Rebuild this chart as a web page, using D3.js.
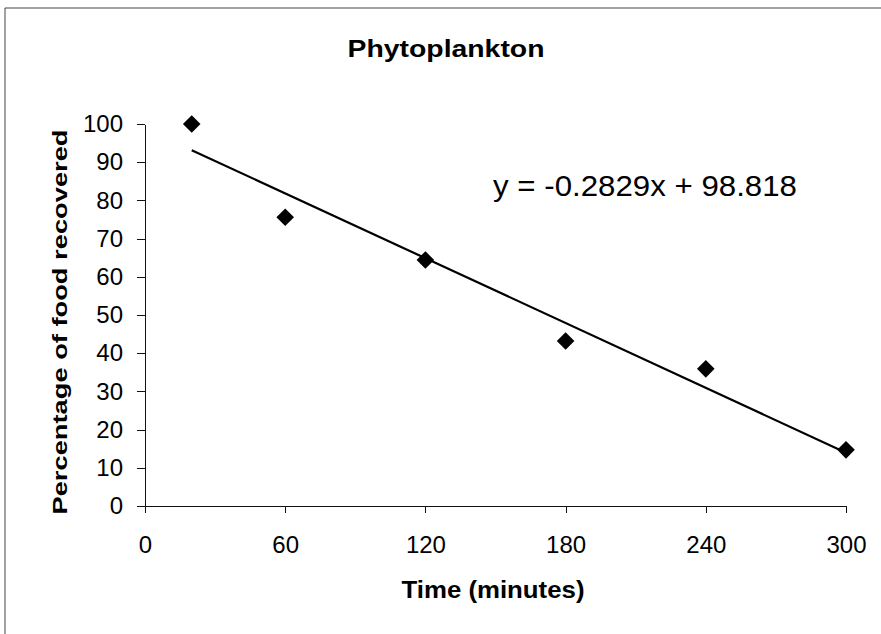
<!DOCTYPE html>
<html lang="en">
<head>
<meta charset="UTF-8">
<script src="https://d3js.org/d3.v7.min.js"></script>
<style>
  body { margin: 0; background: #fff; }
  svg { display: block; font-family: Arial, "Liberation Sans", sans-serif; }
  .axis path, .axis line { stroke: #111; stroke-width: 1px; shape-rendering: crispEdges; }
  .axis text { fill: #000; font-size: 24px; }
  .trend { fill: none; stroke: #000; stroke-width: 2.2px; }
</style>
</head>
<body>
<script>
var times = [20, 60, 120, 180, 240, 300];
var recovered = [100, 75.6, 64.4, 43.2, 35.9, 14.7];

// linear trendline as printed on the chart
var slope = -0.2829, intercept = 98.818;
var trendRange = [20, 300];

var xTicks = [0, 60, 120, 180, 240, 300];
var yTicks = [0, 10, 20, 30, 40, 50, 60, 70, 80, 90, 100];

var W = 881, H = 634;

var x = d3.scaleLinear().domain([0, 300]).range([145, 846]);
var y = d3.scaleLinear().domain([0, 100]).range([506, 124]);

var svg = d3.select("body").append("svg")
  .attr("width", W)
  .attr("height", H);

// outer frame (only top and left edge show in the scan)
svg.append("path")
  .attr("d", "M5," + H + "V8H" + W)
  .attr("fill", "none")
  .attr("stroke", "#444")
  .attr("stroke-width", 1);

// axes
svg.append("g")
  .attr("class", "axis")
  .attr("transform", "translate(0," + y(0) + ")")
  .call(d3.axisBottom(x).tickValues(xTicks).tickSize(7).tickPadding(23).tickSizeOuter(0));

svg.append("g")
  .attr("class", "axis")
  .attr("transform", "translate(" + x(0) + ",0)")
  .call(d3.axisLeft(y).tickValues(yTicks).tickSize(8).tickPadding(14).tickSizeOuter(0));

// trendline
svg.append("line")
  .attr("class", "trend")
  .attr("x1", x(trendRange[0]))
  .attr("y1", y(slope * trendRange[0] + intercept))
  .attr("x2", x(trendRange[1]))
  .attr("y2", y(slope * trendRange[1] + intercept));

// diamond markers
var diamond = d3.symbol().type(d3.symbolSquare).size(155);
svg.selectAll(".pt")
  .data(times)
  .enter().append("path")
  .attr("class", "pt")
  .attr("d", diamond)
  .attr("fill", "#000")
  .attr("transform", function(d, i) {
    return "translate(" + x(d) + "," + y(recovered[i]) + ")rotate(45)";
  });

// titles (glyphs in the scan are stretched, so fix their length)
svg.append("text")
  .attr("x", 446).attr("y", 57)
  .attr("text-anchor", "middle")
  .attr("font-size", "24px").attr("font-weight", "bold")
  .attr("textLength", 197).attr("lengthAdjust", "spacingAndGlyphs")
  .text("Phytoplankton");

svg.append("text")
  .attr("x", 493).attr("y", 598)
  .attr("text-anchor", "middle")
  .attr("font-size", "23px").attr("font-weight", "bold")
  .attr("textLength", 183).attr("lengthAdjust", "spacingAndGlyphs")
  .text("Time (minutes)");

svg.append("text")
  .attr("transform", "translate(67,322)rotate(-90)")
  .attr("text-anchor", "middle")
  .attr("font-size", "21px").attr("font-weight", "bold")
  .attr("textLength", 385).attr("lengthAdjust", "spacingAndGlyphs")
  .text("Percentage of food recovered");

svg.append("text")
  .attr("x", 493).attr("y", 196)
  .attr("font-size", "30px")
  .attr("textLength", 304).attr("lengthAdjust", "spacingAndGlyphs")
  .text("y = -0.2829x + 98.818");
</script>
</body>
</html>
